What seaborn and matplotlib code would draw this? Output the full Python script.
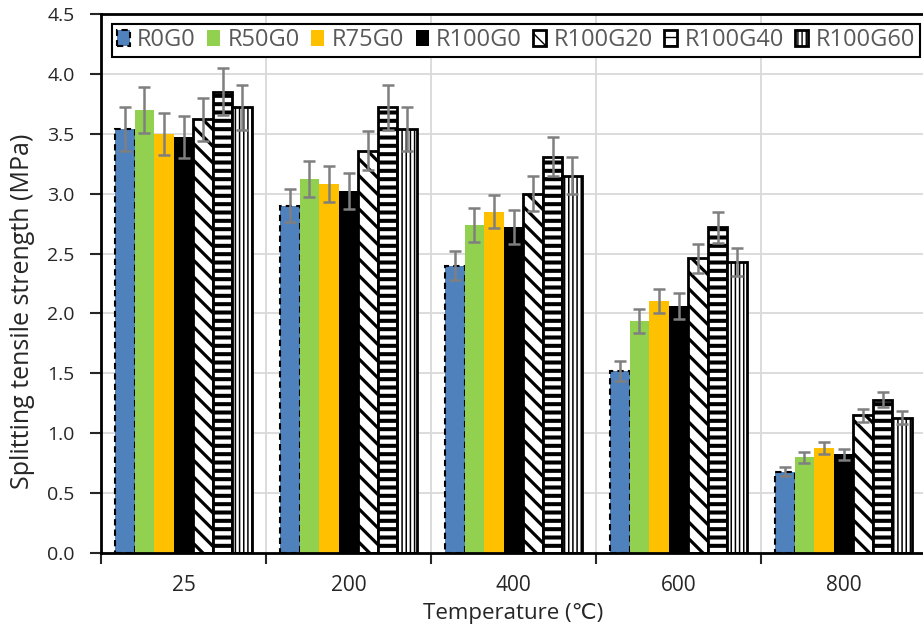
import numpy as np
import pandas as pd
import matplotlib
matplotlib.use('Agg')
import matplotlib.pyplot as plt
import seaborn as sns

# temperatures (x categories) and mixes (hue)
temps = ['25', '200', '400', '600', '800']
mixes = ['R0G0', 'R50G0', 'R75G0', 'R100G0', 'R100G20', 'R100G40', 'R100G60']

# splitting tensile strength (MPa), one list per mix
r0g0 = [3.54, 2.90, 2.40, 1.52, 0.68]
r50g0 = [3.70, 3.12, 2.74, 1.94, 0.80]
r75g0 = [3.50, 3.08, 2.85, 2.10, 0.875]
r100g0 = [3.47, 3.02, 2.72, 2.06, 0.825]
r100g20 = [3.62, 3.36, 3.00, 2.46, 1.15]
r100g40 = [3.85, 3.72, 3.31, 2.72, 1.28]
r100g60 = [3.72, 3.54, 3.15, 2.43, 1.13]

# error bars (+/-)
r0g0_err = [0.185, 0.14, 0.12, 0.08, 0.035]
r50g0_err = [0.19, 0.15, 0.14, 0.10, 0.045]
r75g0_err = [0.175, 0.15, 0.14, 0.10, 0.05]
r100g0_err = [0.175, 0.15, 0.14, 0.11, 0.047]
r100g20_err = [0.18, 0.165, 0.145, 0.12, 0.055]
r100g40_err = [0.195, 0.19, 0.16, 0.13, 0.065]
r100g60_err = [0.185, 0.18, 0.155, 0.12, 0.055]

values = [r0g0, r50g0, r75g0, r100g0, r100g20, r100g40, r100g60]
errors = [r0g0_err, r50g0_err, r75g0_err, r100g0_err, r100g20_err, r100g40_err, r100g60_err]

face_colors = ['#4F81BD', '#92D050', '#FFC000', '#000000', '#FFFFFF', '#FFFFFF', '#FFFFFF']
hatches = [None, None, None, None, '\\\\', '--', '||||']
hatch_lw = [1, 1, 1, 1, 2.3, 2.9, 1.1]

rows = []
for mix, vals in zip(mixes, values):
    for t, v in zip(temps, vals):
        rows.append({'Temperature': t, 'Mix': mix, 'Strength': v})
df = pd.DataFrame(rows)

sns.set_style('white')
plt.rcParams['font.family'] = ['Open Sans', 'DejaVu Sans']

fig = plt.figure(figsize=(9.23, 6.24), dpi=100)
ax = fig.add_axes([101 / 923, 71 / 624, 825 / 923, 539 / 624])

sns.barplot(data=df, x='Temperature', y='Strength', hue='Mix', order=temps,
            hue_order=mixes, palette=face_colors, width=0.83, saturation=1,
            errorbar=None, legend=False, ax=ax)

bar_conts = list(ax.containers)
for i, cont in enumerate(bar_conts):
    for bar in cont:
        bar.set_facecolor(face_colors[i])
        if i == 0:
            bar.set_edgecolor('black')
            bar.set_linestyle((0, (3, 2)))
            bar.set_linewidth(1.5)
        elif hatches[i] is not None:
            bar.set_edgecolor('black')
            bar.set_linewidth(2)
            bar.set_hatch(hatches[i])
            if hasattr(bar, 'set_hatch_linewidth'):
                bar.set_hatch_linewidth(hatch_lw[i])
        else:
            bar.set_edgecolor(face_colors[i])
            bar.set_linewidth(0)
    xs = [b.get_x() + b.get_width() / 2 for b in cont]
    ax.errorbar(xs, values[i], yerr=errors[i], fmt='none', ecolor='#7F7F7F',
                elinewidth=1.8, capsize=4.5, capthick=1.8, zorder=5)

# axes, ticks and grid
ax.set_ylim(0, 4.5)
ax.set_xlim(-0.5, 4.5)
ax.set_yticks(np.arange(0, 4.51, 0.5))
ax.set_yticklabels([f'{v:.1f}' for v in np.arange(0, 4.51, 0.5)])
ax.set_xticks(np.arange(-0.5, 4.6, 1.0))
ax.set_xticklabels([])
ax.set_xticks(range(len(temps)), minor=True)
ax.set_xticklabels(temps, minor=True)
ax.set_axisbelow(True)
ax.grid(True, which='major', color='#D9D9D9', linewidth=1.3)

ax.tick_params(axis='x', which='major', length=8, width=1.5, direction='out', bottom=True)
ax.tick_params(axis='x', which='minor', length=0, labelsize=15, pad=16, bottom=True)
ax.tick_params(axis='y', length=8, width=1.5, direction='out', left=True,
               labelsize=14, pad=11)

for side in ['left', 'bottom', 'top']:
    ax.spines[side].set_visible(True)
    ax.spines[side].set_color('black')
    ax.spines[side].set_linewidth(2)
ax.spines['right'].set_visible(False)

ax.set_xlabel('Temperature (℃)', fontsize=16)
ax.xaxis.set_label_coords(0.5, -0.093)
ax.set_ylabel('Splitting tensile strength (MPa)', fontsize=18)
ax.yaxis.set_label_coords(-0.080, 0.449)

leg = ax.legend(bar_conts, mixes, ncol=7, loc='upper left', mode='expand',
                bbox_to_anchor=(0.0133, 0.5, 0.979, 0.482), fontsize=17,
                frameon=True, fancybox=False, edgecolor='black', framealpha=1,
                handlelength=0.55, handleheight=0.7, handletextpad=0.3,
                borderpad=0.2, columnspacing=0.5, borderaxespad=0)
leg.get_frame().set_linewidth(1.5)
for txt in leg.get_texts():
    txt.set_color('#595959')

fig.savefig('out.png', dpi=100)
